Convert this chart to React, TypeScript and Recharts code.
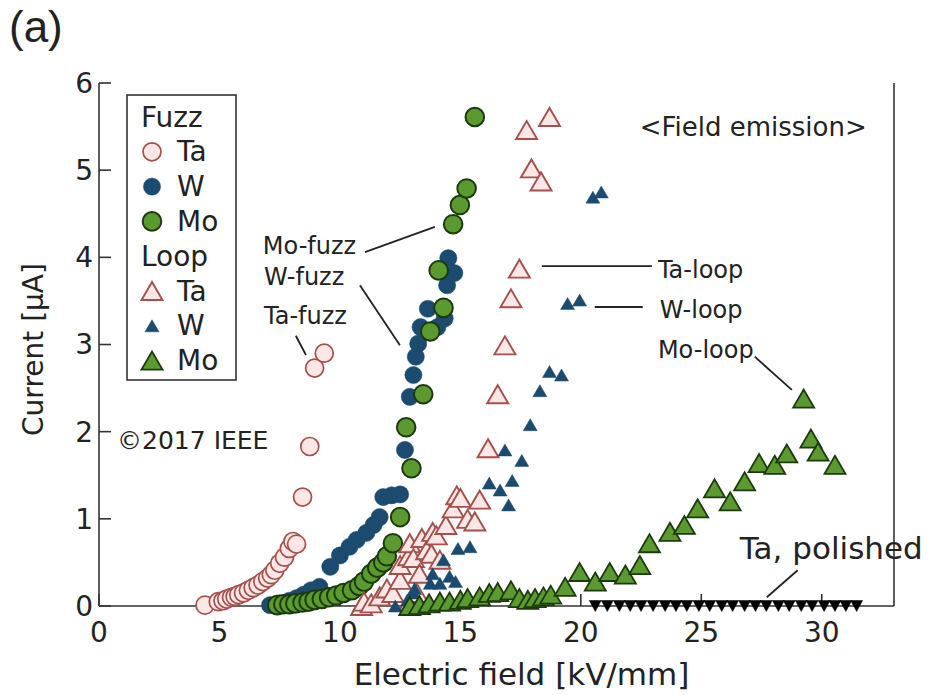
import { Label, Legend, ReferenceDot, ReferenceLine, Scatter, ScatterChart, XAxis, YAxis } from 'recharts';

type Pt = { x: number; y: number };

// [field kV/mm, current µA]
const TA_FUZZ = [
  [4.4, 0.01], [4.95, 0.05], [5.15, 0.06], [5.3, 0.08], [5.5, 0.1], [5.65, 0.11], [5.8, 0.13],
  [6.0, 0.15], [6.2, 0.18], [6.4, 0.21], [6.6, 0.24], [6.8, 0.28], [7.0, 0.32], [7.15, 0.36],
  [7.3, 0.41], [7.5, 0.49], [7.7, 0.56], [7.9, 0.66], [8.05, 0.74], [8.2, 0.71], [8.45, 1.25],
  [8.75, 1.83], [8.95, 2.73], [9.35, 2.9],
];
const W_FUZZ = [
  [7.1, 0.01], [7.5, 0.03], [7.9, 0.06], [8.2, 0.09], [8.5, 0.13], [8.8, 0.18], [9.15, 0.22],
  [9.6, 0.45], [10.0, 0.58], [10.4, 0.68], [10.7, 0.76], [11.1, 0.84], [11.4, 0.93], [11.65, 1.02],
  [11.8, 1.25], [12.15, 1.27], [12.5, 1.28], [12.7, 1.79], [12.9, 2.4], [13.05, 2.65], [13.15, 2.86],
  [13.25, 3.01], [13.35, 3.2], [13.65, 3.41], [14.05, 3.2], [14.35, 3.3], [14.45, 3.68],
  [14.75, 3.82], [14.5, 3.99],
];
const MO_FUZZ = [
  [7.4, 0.01], [7.65, 0.02], [7.9, 0.02], [8.15, 0.03], [8.45, 0.04], [8.7, 0.05], [8.95, 0.07],
  [9.25, 0.08], [9.55, 0.1], [9.85, 0.12], [10.15, 0.15], [10.5, 0.18], [10.8, 0.23], [11.0, 0.28],
  [11.3, 0.37], [11.55, 0.44], [11.8, 0.5], [11.95, 0.57], [12.2, 0.72], [12.5, 1.02], [12.97, 1.58],
  [12.75, 2.05], [13.46, 2.43], [13.75, 3.15], [14.3, 3.42], [14.1, 3.85], [14.7, 4.38],
  [14.98, 4.6], [15.26, 4.79], [15.6, 5.61],
];
const TA_LOOP = [
  [10.9, 0.0], [11.0, 0.05], [11.3, 0.03], [11.65, 0.11], [11.95, 0.2], [12.2, 0.15], [12.5, 0.3],
  [12.5, 0.47], [12.85, 0.57], [12.9, 0.05], [12.9, 0.72], [13.05, 0.55], [13.2, 0.15], [13.3, 0.37],
  [13.4, 0.78], [13.6, 0.64], [13.8, 0.6], [13.85, 0.85], [14.0, 0.81], [14.15, 0.53], [14.4, 0.93],
  [14.7, 1.12], [14.85, 1.27], [15.0, 1.24], [15.3, 1.0], [15.6, 0.97], [15.8, 1.22], [16.15, 1.81],
  [16.55, 2.43], [16.85, 2.99], [17.1, 3.53], [17.45, 3.87], [17.75, 5.46], [17.95, 5.02],
  [18.35, 4.87], [18.7, 5.61],
];
const W_LOOP = [
  [12.3, 0.0], [12.8, 0.07], [13.05, 0.15], [13.1, 0.2], [13.75, 0.26], [13.85, 0.37], [14.15, 0.26],
  [14.3, 0.53], [14.55, 0.34], [14.8, 0.28], [14.9, 0.66], [15.4, 0.68], [16.2, 1.41], [16.65, 1.33],
  [16.85, 1.79], [17.0, 1.16], [17.15, 1.44], [17.55, 1.67], [17.9, 2.08], [18.3, 2.47], [18.7, 2.69],
  [19.2, 2.65], [19.45, 3.47], [19.95, 3.51], [20.5, 4.69], [20.85, 4.75],
];
const MO_LOOP = [
  [12.9, 0.0], [13.3, 0.01], [13.7, 0.03], [14.15, 0.05], [14.55, 0.05], [15.0, 0.07], [15.3, 0.09],
  [15.8, 0.11], [16.2, 0.15], [16.55, 0.16], [17.1, 0.18], [17.45, 0.09], [17.8, 0.07], [18.1, 0.09],
  [18.45, 0.11], [18.75, 0.13], [19.35, 0.22], [19.95, 0.39], [20.6, 0.28], [21.2, 0.39],
  [21.85, 0.36], [22.45, 0.47], [22.85, 0.72], [23.7, 0.85], [24.3, 0.93], [24.85, 1.12],
  [25.55, 1.35], [26.2, 1.2], [26.8, 1.43], [27.4, 1.64], [28.05, 1.62], [28.55, 1.75],
  [29.25, 2.38], [29.55, 1.92], [29.85, 1.77], [30.55, 1.62],
];
const TA_POLISHED = [
  [20.6, 0], [21.1, 0], [21.6, 0], [22.05, 0], [22.5, 0], [23.0, 0], [23.5, 0], [23.95, 0],
  [24.4, 0], [24.9, 0], [25.35, 0], [25.85, 0], [26.3, 0], [26.8, 0], [27.25, 0], [27.7, 0],
  [28.2, 0], [28.65, 0], [29.15, 0], [29.6, 0], [30.1, 0], [30.55, 0], [31.0, 0], [31.45, 0],
];

const X_TICKS = [0, 5, 10, 15, 20, 25, 30];
const Y_TICKS = [0, 1, 2, 3, 4, 5, 6];

const FONT = '"DejaVu Sans", sans-serif';
const INK = '#222';
const TA_STROKE = '#a4504c';
const TA_FILL = '#fde7e6';
const W_FILL = '#1b4b6e';
const MO_FILL = '#5b9a2e';
const MO_STROKE = '#1d3a0e';

const toPts = (rows: number[][]): Pt[] => rows.map(([x, y]) => ({ x, y }));

const dot = (r: number, fill: string, stroke: string, sw: number) => (p: any) => (
  <circle cx={p.cx} cy={p.cy} r={r} fill={fill} stroke={stroke} strokeWidth={sw} />
);

const tri = (w: number, h: number, up: boolean, fill: string, stroke: string, sw: number) => (p: any) => {
  const { cx, cy } = p;
  const pts = up
    ? `${cx - w / 2},${cy + h / 2} ${cx + w / 2},${cy + h / 2} ${cx},${cy - h / 2}`
    : `${cx - w / 2},${cy - h / 2} ${cx + w / 2},${cy - h / 2} ${cx},${cy + h / 2}`;
  return <polygon points={pts} fill={fill} stroke={stroke} strokeWidth={sw} strokeLinejoin="miter" />;
};

const taFuzzShape = dot(9, TA_FILL, TA_STROKE, 1.7);
const wFuzzShape = dot(8.6, W_FILL, W_FILL, 0.5);
const moFuzzShape = dot(9.3, MO_FILL, MO_STROKE, 2);
const taLoopShape = tri(21, 18, true, TA_FILL, TA_STROKE, 1.9);
const wLoopShape = tri(14, 12, true, W_FILL, W_FILL, 0.5);
const moLoopShape = tri(21, 18, true, MO_FILL, MO_STROKE, 1.8);
const polishedShape = tri(12, 11, false, '#000', '#000', 0.5);

// text placed at data coordinates, y is the vertical centre of the line
const NOTES = [
  { text: 'Mo-fuzz', x: 6.8, y: 4.13, anchor: 'start', size: 24 },
  { text: 'W-fuzz', x: 6.85, y: 3.77, anchor: 'start', size: 24 },
  { text: 'Ta-fuzz', x: 6.85, y: 3.33, anchor: 'start', size: 24 },
  { text: 'Ta-loop', x: 23.2, y: 3.85, anchor: 'start', size: 24 },
  { text: 'W-loop', x: 23.28, y: 3.4, anchor: 'start', size: 24 },
  { text: 'Mo-loop', x: 23.2, y: 2.94, anchor: 'start', size: 24 },
  { text: 'Ta, polished', x: 26.6, y: 0.67, anchor: 'start', size: 31 },
  { text: '<Field emission>', x: 31.87, y: 5.5, anchor: 'end', size: 26 },
  { text: '©2017 IEEE', x: 0.75, y: 1.9, anchor: 'start', size: 25 },
];

const LEADERS = [
  [[11.04, 4.06], [13.94, 4.35]],
  [[10.83, 3.68], [12.49, 2.99]],
  [[8.17, 3.1], [8.59, 2.88]],
  [[18.38, 3.9], [22.95, 3.9]],
  [[20.58, 3.43], [22.57, 3.43]],
  [[27.22, 2.86], [28.76, 2.48]],
  [[29.0, 0.41], [27.72, 0.1]],
];

const LEGEND_ROWS: Array<{ label: string; shape?: (p: any) => any; header?: boolean }> = [
  { label: 'Fuzz', header: true },
  { label: 'Ta', shape: taFuzzShape },
  { label: 'W', shape: wFuzzShape },
  { label: 'Mo', shape: moFuzzShape },
  { label: 'Loop', header: true },
  { label: 'Ta', shape: taLoopShape },
  { label: 'W', shape: wLoopShape },
  { label: 'Mo', shape: moLoopShape },
];

const renderLegend = () => (
  <svg width={112} height={288} style={{ display: 'block' }}>
    <rect x={1} y={1} width={109} height={285} fill="#fff" stroke="#333" strokeWidth={1.6} />
    {LEGEND_ROWS.map((row, i) => {
      const cy = 23 + i * 34.8;
      return (
        <g key={i}>
          {row.shape && row.shape({ cx: 26, cy })}
          <text
            x={row.header ? 15 : 51}
            y={cy}
            dominantBaseline="central"
            fontSize={28}
            fontFamily={FONT}
            fill={INK}
          >
            {row.label}
          </text>
        </g>
      );
    })}
  </svg>
);

const renderXTitle = (props: any) => {
  const { x, y, width } = props.viewBox;
  return (
    <text x={x + width / 2 + 25} y={y + 68} textAnchor="middle" dominantBaseline="central" fontSize={31} fontFamily={FONT} fill={INK}>
      Electric field [kV/mm]
    </text>
  );
};

const renderYTitle = (props: any) => {
  const { x, y, height } = props.viewBox;
  const cx = x + 33;
  const cy = y + height / 2 + 5;
  return (
    <text x={cx} y={cy} transform={`rotate(-90 ${cx} ${cy})`} textAnchor="middle" dominantBaseline="central" fontSize={28} fontFamily={FONT} fill={INK}>
      Current [μA]
    </text>
  );
};

const axisStroke = { stroke: '#333', strokeWidth: 1.6 };

export default function App() {
  return (
    <div style={{ position: 'absolute', left: 0, top: 0, width: 935, height: 695, background: '#fff' }}>
      <div
        style={{ position: 'absolute', left: 9, top: 2, fontSize: 44, fontFamily: '"Liberation Sans", Arial, sans-serif', color: INK, zIndex: 2 }}
      >
        (a)
      </div>
      <ScatterChart width={935} height={695} margin={{ top: 83, right: 40, bottom: 0, left: 0 }}>
        <XAxis
          type="number"
          dataKey="x"
          domain={[0, 33]}
          ticks={X_TICKS}
          height={89}
          axisLine={axisStroke}
          tickLine={axisStroke}
          tickSize={-12}
          tickMargin={28}
          tick={{ fill: INK, fontSize: 28, fontFamily: FONT }}
        >
          <Label content={renderXTitle} />
        </XAxis>
        <XAxis
          xAxisId="top"
          orientation="top"
          type="number"
          domain={[0, 33]}
          ticks={X_TICKS}
          height={0}
          axisLine={axisStroke}
          tickLine={axisStroke}
          tickSize={-12}
          tickFormatter={() => ''}
        />
        <YAxis
          type="number"
          dataKey="y"
          domain={[0, 6]}
          ticks={Y_TICKS}
          width={99}
          axisLine={axisStroke}
          tickLine={axisStroke}
          tickSize={-12}
          tickMargin={18}
          tick={{ fill: INK, fontSize: 28, fontFamily: FONT }}
        >
          <Label content={renderYTitle} />
        </YAxis>
        <YAxis
          yAxisId="right"
          orientation="right"
          type="number"
          domain={[0, 6]}
          ticks={Y_TICKS}
          width={1}
          axisLine={axisStroke}
          tickLine={axisStroke}
          tickSize={-12}
          tickFormatter={() => ''}
        />

        <Scatter data={toPts(TA_FUZZ)} shape={taFuzzShape} isAnimationActive={false} />
        <Scatter data={toPts(W_FUZZ)} shape={wFuzzShape} isAnimationActive={false} />
        <Scatter data={toPts(MO_FUZZ)} shape={moFuzzShape} isAnimationActive={false} />
        <Scatter data={toPts(TA_LOOP)} shape={taLoopShape} isAnimationActive={false} />
        <Scatter data={toPts(W_LOOP)} shape={wLoopShape} isAnimationActive={false} />
        <Scatter data={toPts(MO_LOOP)} shape={moLoopShape} isAnimationActive={false} />
        <Scatter data={toPts(TA_POLISHED)} shape={polishedShape} isAnimationActive={false} />

        {LEADERS.map(([a, b], i) => (
          <ReferenceLine
            key={i}
            segment={[{ x: a[0], y: a[1] }, { x: b[0], y: b[1] }]}
            stroke={INK}
            strokeWidth={1.8}
            ifOverflow="visible"
          />
        ))}
        {NOTES.map(n => (
          <ReferenceDot
            key={n.text}
            x={n.x}
            y={n.y}
            r={0}
            ifOverflow="visible"
            shape={(p: any) => (
              <text
                x={p.cx}
                y={p.cy}
                textAnchor={n.anchor as any}
                dominantBaseline="central"
                fontSize={n.size}
                fontFamily={FONT}
                fill={INK}
              >
                {n.text}
              </text>
            )}
          />
        ))}

        <Legend
          layout="vertical"
          align="center"
          verticalAlign="middle"
          wrapperStyle={{ left: 126, top: 94, width: 112, height: 288 }}
          content={renderLegend}
        />
      </ScatterChart>
    </div>
  );
}
